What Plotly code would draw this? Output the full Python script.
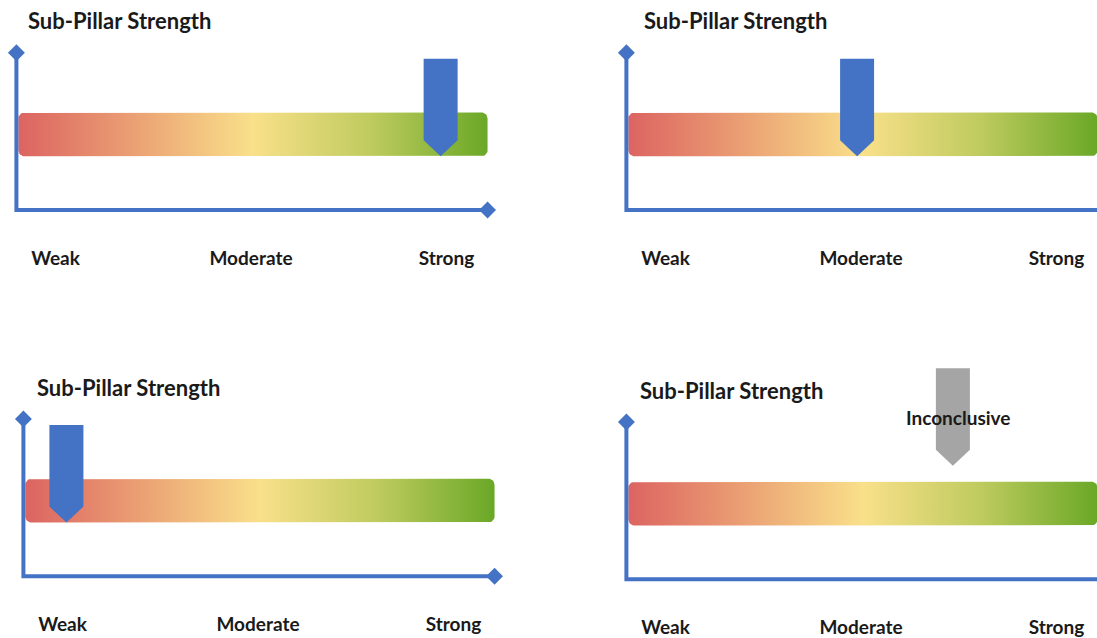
import math
import plotly.graph_objects as go

# ---- data -------------------------------------------------------------
levels = ["Weak", "Moderate", "Strong"]
level_pos = [1, 2, 3]
panel_titles = ["Sub-Pillar Strength"] * 4
scores = [2.97, 1.98, 1.02, 2.47]          # pointer position on the Weak..Strong scale
pointer_kind = ["rated", "rated", "rated", "inconclusive"]
pointer_notes = ["", "", "", "Inconclusive"]

# ---- styling / geometry ----------------------------------------------
W, H = 1097, 638
UNIT = 195.5                 # px per scale step
AXIS_BLUE = "#4472C4"
POINTER_COLORS = {"rated": "#4472C4", "inconclusive": "#A5A5A5"}
POINTER_LIFT = {"rated": 0, "inconclusive": 60}
GRADIENT = [[0.0, "#DC6461"], [0.25, "#EBA174"], [0.5, "#F9E08A"],
            [0.75, "#BFCB5E"], [1.0, "#6AA827"]]
FONT = "Lato"
TEXT = "#1a1a1a"

# panel placement: pixel x of "Moderate", pixel y of the horizontal axis line
mod_px = [251, 861, 258, 861]
axis_px = [211, 211, 579, 582]
title_dx = [10, 16, 12, 12]           # title inset from the vertical axis, px

X_ORIGIN, X_END = 0.80, 3.21          # axis lines on the scale
BAR_X0, BAR_X1 = 0.81, 3.21
BAR_Y0, BAR_Y1 = 54, 98               # px above the axis line
Y_TOP = 158
PTR_TOP, PTR_SHOULDER, PTR_TIP = 152, 70, 54
PTR_HALF = 17 / UNIT


def rounded_rect(x0, x1, y0, y1, r_px=6, n=8):
    rx, ry = r_px / UNIT, r_px
    xs, ys = [], []
    corners = [(x1 - rx, y1 - ry, 0), (x0 + rx, y1 - ry, 90),
               (x0 + rx, y0 + ry, 180), (x1 - rx, y0 + ry, 270)]
    for cx, cy, a0 in corners:
        for k in range(n + 1):
            a = math.radians(a0 + 90 * k / n)
            xs.append(cx + rx * math.cos(a))
            ys.append(cy + ry * math.sin(a))
    xs.append(xs[0]); ys.append(ys[0])
    return xs, ys


fig = go.Figure()
layout = dict(width=W, height=H, margin=dict(l=0, r=0, t=0, b=0),
              paper_bgcolor="white", plot_bgcolor="rgba(0,0,0,0)",
              showlegend=False, annotations=[])

for i in range(4):
    sfx = "" if i == 0 else str(i + 1)
    xa, ya = "x" + sfx, "y" + sfx

    # domains from pixel placement
    left_px = mod_px[i] - (2 - 0.75) * UNIT
    right_px = min(W, mod_px[i] + (3.30 - 2) * UNIT)
    bottom_px = axis_px[i] + 5
    top_px = max(0, axis_px[i] - 225)
    x_lo = 2 + (left_px - mod_px[i]) / UNIT
    x_hi = 2 + (right_px - mod_px[i]) / UNIT

    layout["xaxis" + sfx] = dict(
        domain=[left_px / W, right_px / W], range=[x_lo, x_hi],
        anchor=ya, showgrid=False, zeroline=False, showline=False,
        tickvals=level_pos, ticktext=levels, ticks="",
        ticklabelstandoff=30,
        tickfont=dict(family=FONT, size=19, color=TEXT, weight=700),
        fixedrange=True)
    layout["yaxis" + sfx] = dict(
        domain=[1 - bottom_px / H, 1 - top_px / H],
        range=[-5, axis_px[i] - top_px], anchor=xa,
        showgrid=False, zeroline=False, showline=False,
        showticklabels=False, fixedrange=True)

    # gradient strength bar
    bx, by = rounded_rect(BAR_X0, BAR_X1, BAR_Y0, BAR_Y1)
    fig.add_trace(go.Scatter(
        x=bx, y=by, xaxis=xa, yaxis=ya, mode="lines", line=dict(width=0),
        fill="toself", fillgradient=dict(type="horizontal", colorscale=GRADIENT),
        hoverinfo="skip"))

    # axis lines
    fig.add_trace(go.Scatter(
        x=[X_ORIGIN, X_ORIGIN, X_END], y=[Y_TOP, 0, 0], xaxis=xa, yaxis=ya,
        mode="lines", line=dict(color=AXIS_BLUE, width=4), hoverinfo="skip"))
    # diamond end caps
    fig.add_trace(go.Scatter(
        x=[X_ORIGIN, X_END], y=[Y_TOP, 0], xaxis=xa, yaxis=ya,
        mode="markers", opacity=1,
        marker=dict(symbol="diamond", size=13, color=AXIS_BLUE, opacity=1,
                    line=dict(width=0)),
        cliponaxis=False, hoverinfo="skip"))

    # pointer
    s = scores[i]
    kind = pointer_kind[i]
    lift = POINTER_LIFT[kind]
    px = [s - PTR_HALF, s + PTR_HALF, s + PTR_HALF, s, s - PTR_HALF, s - PTR_HALF]
    py = [PTR_TOP + lift, PTR_TOP + lift, PTR_SHOULDER + lift, PTR_TIP + lift,
          PTR_SHOULDER + lift, PTR_TOP + lift]
    fig.add_trace(go.Scatter(
        x=px, y=py, xaxis=xa, yaxis=ya, mode="lines", line=dict(width=0),
        fill="toself", fillcolor=POINTER_COLORS[kind], hoverinfo="skip"))

    if pointer_notes[i]:
        layout["annotations"].append(dict(
            x=s, y=163, xref=xa, yref=ya, text=pointer_notes[i], showarrow=False,
            xshift=5, font=dict(family=FONT, size=19, color=TEXT, weight=700)))

    layout["annotations"].append(dict(
        x=X_ORIGIN, y=190, xref=xa, yref=ya, text=panel_titles[i],
        xshift=title_dx[i], showarrow=False, xanchor="left", yanchor="middle",
        font=dict(family=FONT, size=22, color=TEXT, weight=700)))

fig.update_layout(**layout)
fig.write_html("out.html")
